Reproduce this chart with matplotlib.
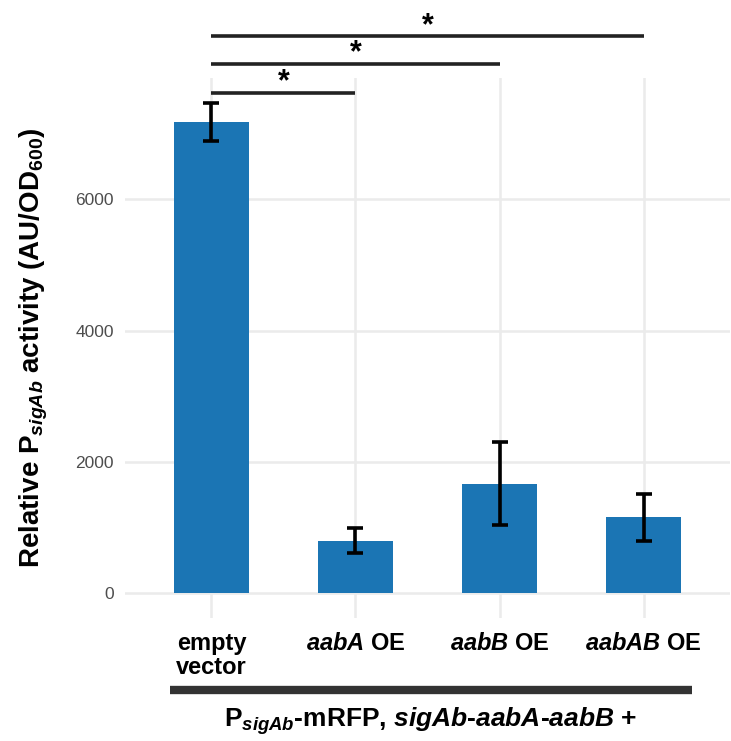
import numpy as np
import matplotlib
matplotlib.use("Agg")
from matplotlib import pyplot as plt

plt.rcParams['font.family'] = ['Liberation Sans', 'DejaVu Sans']
plt.rcParams['mathtext.fontset'] = 'custom'
plt.rcParams['mathtext.rm'] = 'Liberation Sans:bold'
plt.rcParams['mathtext.it'] = 'Liberation Sans:bold:italic'
plt.rcParams['mathtext.bf'] = 'Liberation Sans:bold'

# mean activity and error per construct
groups = ['empty\nvector', r'$\mathit{aabA}$ OE', r'$\mathit{aabB}$ OE', r'$\mathit{aabAB}$ OE']
activity = [7180, 800, 1670, 1160]
err = [290, 190, 635, 360]

# significance brackets: (from, to, height)
sig_from = [1, 1, 1]
sig_to = [2, 3, 4]
sig_y = [7620, 8060, 8485]

blue = '#1b75b4'
W, H = 731, 741
fig = plt.figure(figsize=(W/100, H/100), dpi=100)
ax = fig.add_axes([125/W, (H-618)/H, (730-125)/W, (618-78)/H])

x = np.arange(1, len(activity)+1)
ax.bar(x, activity, width=0.52, color=blue, zorder=2)
ax.errorbar(x, activity, yerr=err, fmt='none', ecolor='black',
            elinewidth=2.6, capsize=5.5, capthick=2.6, zorder=3)

ymax = max(a+e for a, e in zip(activity, err))
ax.set_ylim(-0.05*ymax, 1.05*ymax)
ax.set_xlim(0.4, 4.6)
ax.set_yticks([0, 2000, 4000, 6000])
ax.set_xticks(x)
ax.set_xticklabels(groups, fontsize=17, fontweight='bold', color='black', linespacing=1.05)
ax.tick_params(axis='y', labelsize=12.5, labelcolor='#4d4d4d', length=0, pad=8)
ax.tick_params(axis='x', length=0, pad=10)
ax.grid(True, color='#ebebeb', linewidth=1.8, zorder=0)
ax.set_axisbelow(True)
for s in ax.spines.values():
    s.set_visible(False)

ax.set_ylabel(r'Relative P$_{\mathit{sigAb}}$ activity (AU/OD$_{600}$)',
              fontsize=20, fontweight='bold')
ax.yaxis.set_label_coords(-0.124, 0.5)

for a, b, y in zip(sig_from, sig_to, sig_y):
    ax.plot([a, b], [y, y], color='#222222', linewidth=2.6, clip_on=False,
            solid_capstyle='butt')
    ax.annotate('*', xy=((a+b)/2, y), xytext=(0, 1.5), textcoords='offset points',
                ha='center', va='baseline', fontsize=22, fontweight='bold',
                annotation_clip=False)

# bar under the group labels and shared construct label
fig.add_artist(plt.Line2D([170/W, 692/W], [1-690/H, 1-690/H], color='#333333',
                          linewidth=6, solid_capstyle='butt'))
fig.text(430/W, 1-721/H, r'P$_{\mathit{sigAb}}$-mRFP, $\mathit{sigAb}$-$\mathit{aabA}$-$\mathit{aabB}$ +',
         ha='center', va='center', fontsize=19, fontweight='bold')

fig.savefig('out.png', dpi=100)
